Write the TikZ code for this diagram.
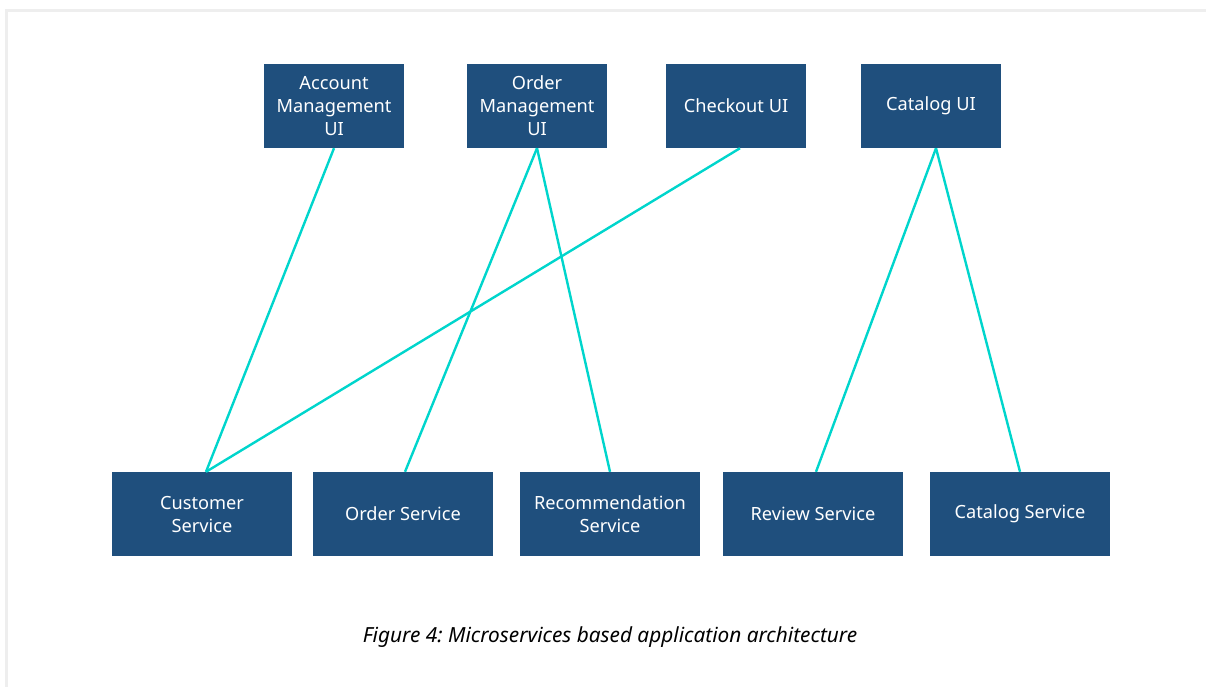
\documentclass[tikz,border=0pt]{standalone}
\usepackage{fontspec}
\setmainfont{Noto Sans}
\frenchspacing
\definecolor{boxblue}{HTML}{1F4F7D}
\definecolor{linkc}{HTML}{00D5CC}
\definecolor{framec}{HTML}{EEEEEE}

\begin{document}
\begin{tikzpicture}[x=1pt,y=-1pt,
  svc/.style={fill=boxblue, draw=none, minimum width=180pt, minimum height=84pt,
    text=white, font=\fontsize{18.2}{23}\selectfont, align=center, inner sep=0pt},
  ui/.style={svc, minimum width=140pt},
  wire/.style={draw=linkc, line width=2.4pt}]

  \useasboundingbox (0,0) rectangle (1206,687);

  % page frame
  \draw[framec, line width=3pt] (6.5,687) -- (6.5,10.5) -- (1206,10.5);

  % user interfaces
  \node[ui] (acct)  at (334,106) {Account\\Management\\UI};
  \node[ui] (ordui) at (537,106) {Order\\Management\\UI};
  \node[ui] (chk)   at (736,106) {Checkout UI};
  \node[ui] (catui) at (931,106) {Catalog UI};

  % services
  \node[svc] (cust) at (202,514) {Customer\\Service};
  \node[svc] (ords) at (403,514) {Order Service};
  \node[svc] (rec)  at (610,514) {Recommendation\\Service};
  \node[svc] (rev)  at (813,514) {Review Service};
  \node[svc] (cats) at (1020,514) {Catalog Service};

  % connections
  \draw[wire] (acct.south) -- ([xshift=4pt]cust.north);
  \draw[wire] ([xshift=4pt]chk.south) -- ([xshift=4pt]cust.north);
  \draw[wire] (ordui.south) -- ([xshift=2pt]ords.north);
  \draw[wire] (ordui.south) -- (rec.north);
  \draw[wire] ([xshift=5pt]catui.south) -- ([xshift=3pt]rev.north);
  \draw[wire] ([xshift=5pt]catui.south) -- (cats.north);

  % caption
  \node[font=\fontsize{20.8}{25}\selectfont\itshape] (cap) at (610,637)
    {Figure 4: Microservices based application architecture};
\end{tikzpicture}
\end{document}
